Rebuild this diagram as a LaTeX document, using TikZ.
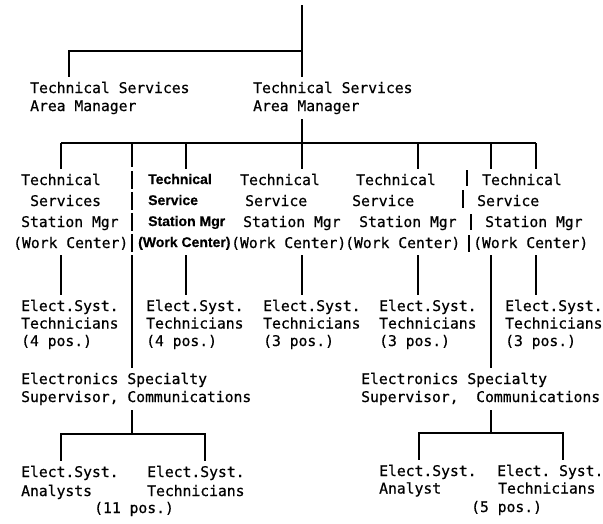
\documentclass[tikz,border=0pt]{standalone}
\usepackage{fontspec}
\setmonofont{DejaVu Sans Mono}[FakeBold=0.6]
\newfontfamily\heavy{Liberation Sans}[FakeBold=0.4]

% one line of a label, optionally pushed right by #1 pt
\newcommand\tline[2][0]{\hbox{\kern#1pt\relax #2}}
% a stack of lines with a fixed baseline distance #1
\newcommand\rows[2]{\vtop{\baselineskip=#1\lineskiplimit=-\maxdimen #2}}

\tikzset{
  lbl/.style={anchor=base west, inner xsep=0pt, inner ysep=5pt,
              font=\ttfamily\fontsize{14.7}{17.5}\selectfont},
  hot/.style={lbl, font=\heavy\bfseries\fontsize{14}{17}\selectfont},
  link/.style={line width=1.3pt},
  typed/.style={link, dash pattern=on 24pt off 4pt on 18pt off 3pt on 18pt off 3pt
                on 18pt off 3pt on 18pt off 3pt on 300pt off 1pt}
}

\begin{document}
\begin{tikzpicture}[x=1pt, y=-1pt]
\useasboundingbox (0,0) rectangle (603,523);

% ---- area managers
\node[lbl] (lam) at (30,93) {\rows{18pt}{\tline{Technical Services}\tline{Area Manager}}};
\node[lbl] (ram) at (253,93) {\rows{18pt}{\tline{Technical Services}\tline{Area Manager}}};

% ---- station managers (work centers)
\node[lbl] (st1) at (13,185) {\rows{21pt}{\tline[8]{Technical}\tline[17]{Services}\tline[8]{Station Mgr}\tline{(Work Center)}}};
\node[hot] (st2) at (138,184) {\rows{21pt}{\tline[10]{Technical}\tline[10]{Service}\tline[10]{Station Mgr}\tline{(Work Center)}}};
\node[lbl] (st3) at (231,185) {\rows{21pt}{\tline[9]{Technical}\tline[14]{Service}\tline[12]{Station Mgr}\tline{(Work Center)}}};
\node[lbl] (st4) at (345,185) {\rows{21pt}{\tline[11]{Technical}\tline[7]{Service}\tline[14]{Station Mgr}\tline{(Work Center)}}};
\node[lbl] (st5) at (473,185) {\rows{21pt}{\tline[9]{Technical}\tline[4]{Service}\tline[12]{Station Mgr}\tline{(Work Center)}}};

% ---- technicians under each station
\node[lbl] (tc1) at (21,311)  {\rows{17.5pt}{\tline{Elect.Syst.}\tline{Technicians}\tline{(4 pos.)}}};
\node[lbl] (tc2) at (146,311) {\rows{17.5pt}{\tline{Elect.Syst.}\tline{Technicians}\tline{(4 pos.)}}};
\node[lbl] (tc3) at (263,311) {\rows{17.5pt}{\tline{Elect.Syst.}\tline{Technicians}\tline{(3 pos.)}}};
\node[lbl] (tc4) at (379,311) {\rows{17.5pt}{\tline{Elect.Syst.}\tline{Technicians}\tline{(3 pos.)}}};
\node[lbl] (tc5) at (505,311) {\rows{17.5pt}{\tline{Elect.Syst.}\tline{Technicians}\tline{(3 pos.)}}};

% ---- specialty supervisors
\node[lbl] (sup1) at (21,384)  {\rows{18pt}{\tline{Electronics Specialty}\tline{Supervisor, Communications}}};
\node[lbl] (sup2) at (361,384) {\rows{18pt}{\tline{Electronics Specialty}\tline{Supervisor,~ Communications}}};

% ---- analysts and technicians under the supervisors
\node[lbl] (ea1) at (21,477)  {\rows{19pt}{\tline{Elect.Syst.}\tline{Analysts}}};
\node[lbl] (et1) at (147,477) {\rows{19pt}{\tline{Elect.Syst.}\tline{Technicians}}};
\node[lbl] (n1)  at (94,513)  {(11 pos.)};
\node[lbl] (ea2) at (379,476) {\rows{17.5pt}{\tline{Elect.Syst.}\tline{Analyst}}};
\node[lbl] (et2) at (497,476) {\rows{17.5pt}{\tline{Elect. Syst.}\tline[1]{Technicians}}};
\node[lbl] (n2)  at (471,512) {(5 pos.)};

% ---- junction points
\coordinate (top) at (302,5);
\coordinate (b1L) at (69,51);
\coordinate (b1R) at (302,51);
\coordinate (b2L) at (61,143);
\coordinate (b2R) at (536,143);
\coordinate (d1) at (132,143);
\coordinate (d2) at (186,143);
\coordinate (d3) at (302,143);
\coordinate (d4) at (418,143);
\coordinate (d5) at (491,143);
\coordinate (b3c) at (132,434);
\coordinate (b3L) at (61,434);
\coordinate (b3R) at (205,434);
\coordinate (b4c) at (491,433);
\coordinate (b4L) at (419,433);
\coordinate (b4R) at (563,433);

% ---- top levels
\draw[link] (top) -- (top |- ram.north);
\draw[link] (b1L |- lam.north) -- (b1L) -- (b1R);
\draw[link] (d3 |- ram.south) -- (d3);
\draw[link] (b2L) -- (b2R);

% ---- drops to the stations
\draw[link] (b2L) -- (b2L |- st1.north);
\draw[link] (d2) -- (d2 |- st2.north);
\draw[link] (d3) -- (d3 |- st3.north);
\draw[link] (d4) -- (d4 |- st4.north);
\draw[link] (d5) -- (d5 |- st5.north);
\draw[link] (b2R) -- (b2R |- st5.north);

% ---- stations to technicians
\draw[link] (b2L |- st1.south) -- (b2L |- tc1.north);
\draw[link] (d2 |- st2.south) -- (d2 |- tc2.north);
\draw[link] (d3 |- st3.south) -- (d3 |- tc3.north);
\draw[link] (d4 |- st4.south) -- (d4 |- tc4.north);
\draw[link] (b2R |- st5.south) -- (b2R |- tc5.north);

% ---- lines down to the specialty supervisors
\draw[typed] (d1) -- (d1 |- sup1.north);
\draw[link] (d5 |- st5.south) -- (d5 |- sup2.north);
% typed rule marks beside the last station
\draw[link] (467,170) -- (467,186) (463,190) -- (463,208)
            (471,214) -- (471,230) (469,235) -- (469,252);

% ---- supervisors to their staff
\draw[link] (b3c |- sup1.south) -- (b3c);
\draw[link] (b3L |- ea1.north) -- (b3L) -- (b3R) -- (b3R |- et1.north);
\draw[link] (b4c |- sup2.south) -- (b4c);
\draw[link] (b4L |- ea2.north) -- (b4L) -- (b4R) -- (b4R |- et2.north);
\end{tikzpicture}
\end{document}
